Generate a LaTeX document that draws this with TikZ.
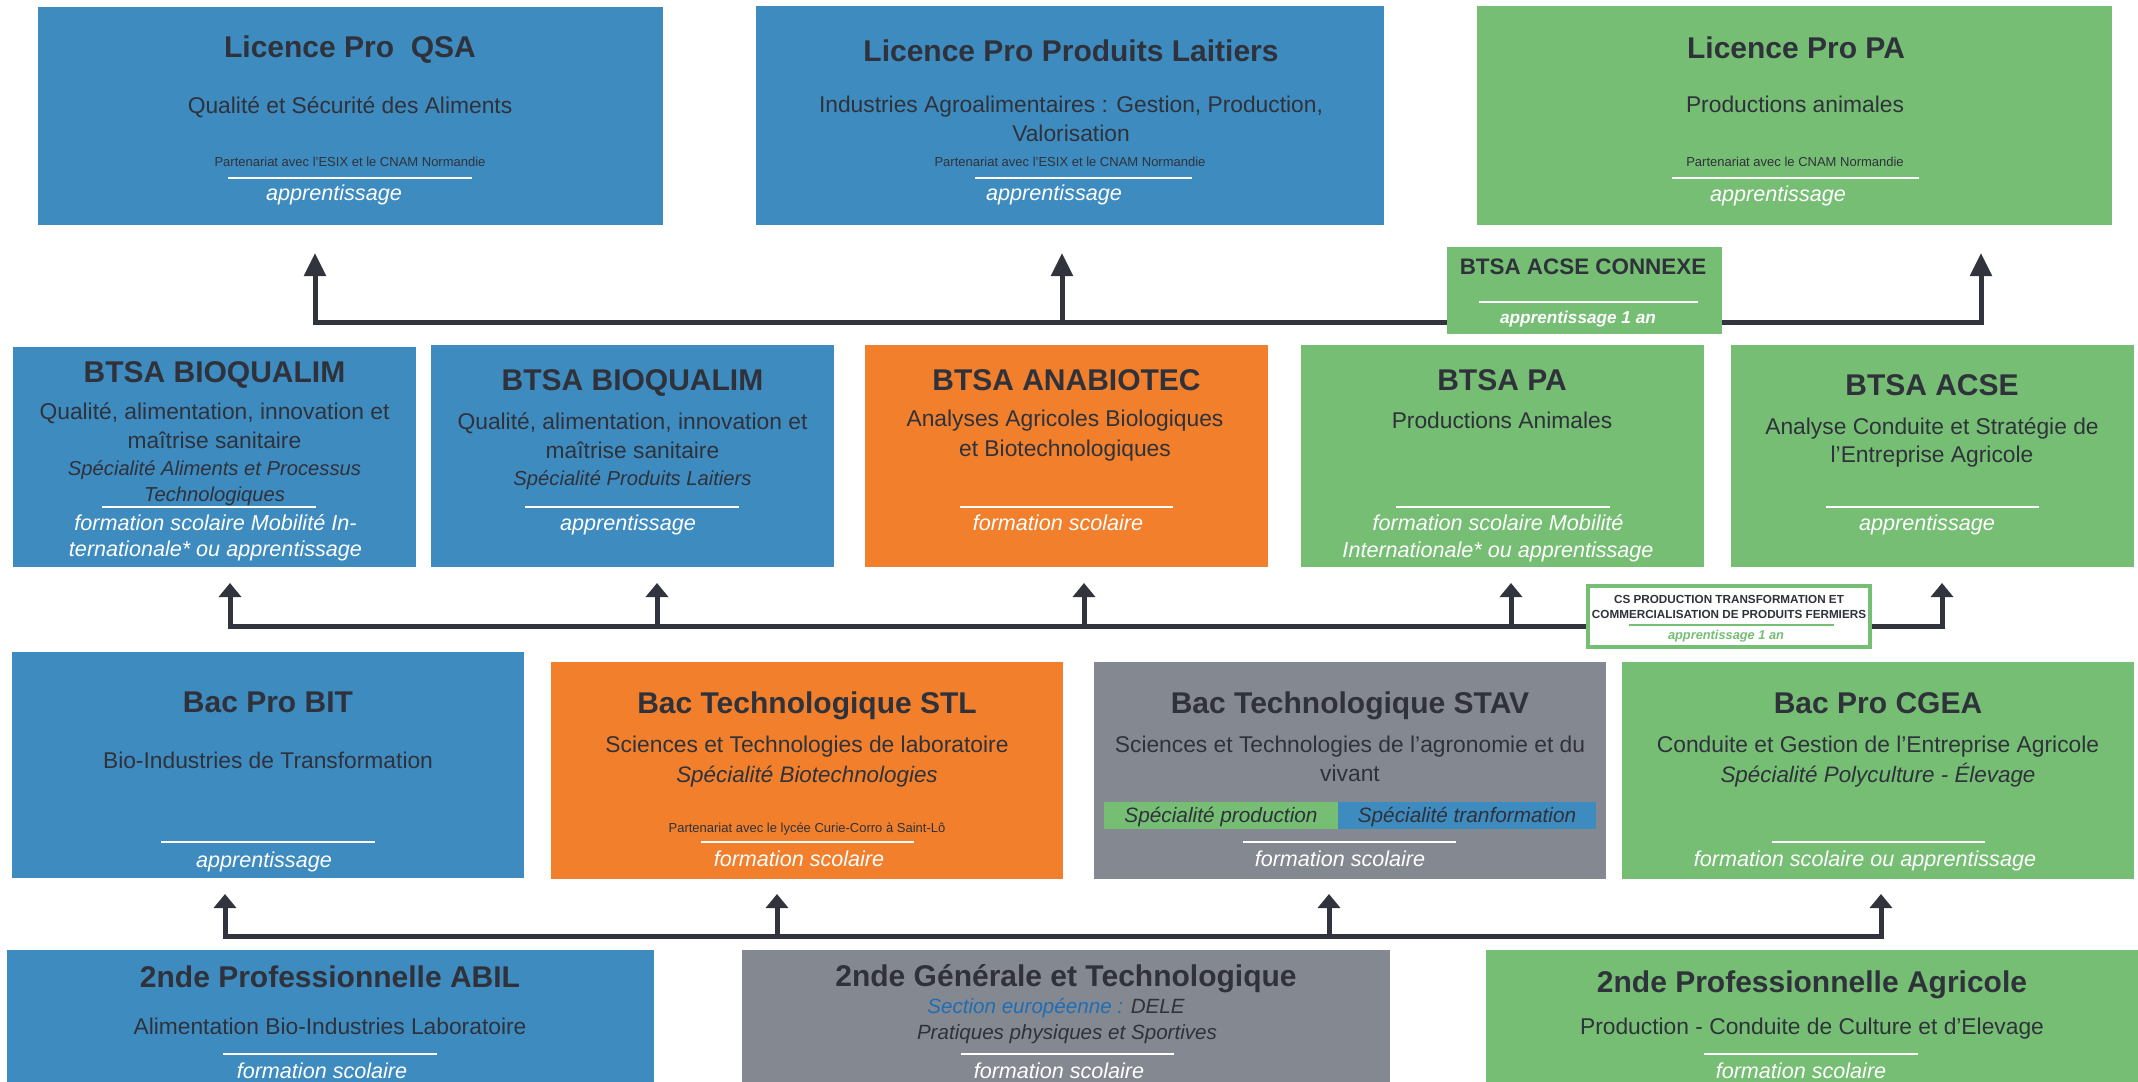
\documentclass[tikz,border=0pt]{standalone}
\usepackage{fontspec}
\setmainfont{Liberation Sans}
\usetikzlibrary{arrows.meta,fit}
\definecolor{cblue}{HTML}{3E8BC0}
\definecolor{cgreen}{HTML}{76BE74}
\definecolor{corange}{HTML}{F17F2B}
\definecolor{cgray}{HTML}{848891}
\definecolor{cdark}{HTML}{2F323A}
\definecolor{cwire}{HTML}{31343C}
\definecolor{ceuro}{HTML}{1F6EB4}
\begin{document}
\begin{tikzpicture}[x=0.5pt,y=-0.5pt,
  box/.style={draw=none,inner sep=0pt,outer sep=0pt},
  ttl/.style={font=\fontsize{15}{18}\selectfont\bfseries,text=cdark,anchor=mid,inner sep=0pt,yshift=-2.8pt},
  body/.style={font=\fontsize{11.4}{14}\selectfont,text=cdark,anchor=mid,inner sep=0pt,yshift=-0.8pt},
  spec/.style={font=\fontsize{11.2}{14}\selectfont\itshape,text=cdark,anchor=mid,inner sep=0pt,yshift=-1.2pt},
  specb/.style={font=\fontsize{10.1}{13}\selectfont\itshape,text=cdark,anchor=mid,inner sep=0pt,yshift=-1pt},
  mode/.style={font=\fontsize{10.8}{13}\selectfont\itshape,text=white,anchor=mid,inner sep=0pt,yshift=-1pt},
  small/.style={font=\fontsize{6.5}{8}\selectfont,text=cdark,anchor=mid,inner sep=0pt},
  sepline/.style={draw=white,line width=1.1pt},
  wire/.style={draw=cwire,line width=2.5pt},
  bigtip/.tip={Triangle[length=11.5pt,width=10.5pt]},
  smalltip/.tip={Triangle[length=7pt,width=11pt]}
]
\useasboundingbox (0,0) rectangle (2138,1082);

% ---------- connectors ----------
\coordinate (u1a) at (315,253); \coordinate (u1b) at (1062,253); \coordinate (u1c) at (1981,253);
\coordinate (b1a) at (315,322); \coordinate (b1b) at (1062,322); \coordinate (b1c) at (1981,322);
\draw[wire,bigtip-bigtip] (u1a) -- (b1a) -- (b1c) -- (u1c);
\draw[wire,-bigtip] (b1b) -- (u1b);

\coordinate (u2a) at (230,583); \coordinate (u2b) at (657,583); \coordinate (u2c) at (1084,583);
\coordinate (u2d) at (1511,583); \coordinate (u2e) at (1942,583);
\coordinate (b2a) at (230,626); \coordinate (b2b) at (657,626); \coordinate (b2c) at (1084,626);
\coordinate (b2d) at (1511,626); \coordinate (b2e) at (1942,626);
\draw[wire,smalltip-smalltip] (u2a) -- (b2a) -- (b2e) -- (u2e);
\draw[wire,-smalltip] (b2b) -- (u2b);
\draw[wire,-smalltip] (b2c) -- (u2c);
\draw[wire,-smalltip] (b2d) -- (u2d);

\coordinate (u3a) at (225,894); \coordinate (u3b) at (777,894); \coordinate (u3c) at (1329,894); \coordinate (u3d) at (1881,894);
\coordinate (b3a) at (225,936); \coordinate (b3b) at (777,936); \coordinate (b3c) at (1329,936); \coordinate (b3d) at (1881,936);
\draw[wire,smalltip-smalltip] (u3a) -- (b3a) -- (b3d) -- (u3d);
\draw[wire,-smalltip] (b3b) -- (u3b);
\draw[wire,-smalltip] (b3c) -- (u3c);

% ---------- row 1 ----------
\node[box,fill=cblue,fit={(38,7) (663,225)}] (qsa) {};
\node[ttl] (qsaT) at (350,47) {Licence Pro~ QSA};
\node[body] (qsa1) at (350,107) {Qualité et Sécurité des Aliments};
\node[small] (qsa2) at (350,161) {Partenariat avec l’ESIX et le CNAM Normandie};
\draw[sepline] (228,178) -- (472,178);
\node[mode] (qsa3) at (334,193) {apprentissage};

\node[box,fill=cblue,fit={(756,6) (1384,225)}] (pl) {};
\node[ttl] (plT) at (1071,51) {Licence Pro Produits Laitiers};
\node[body] (pl1) at (1071,106) {Industries Agroalimentaires : Gestion, Production,};
\node[body] (pl2) at (1071,135) {Valorisation};
\node[small] (pl3) at (1070,161) {Partenariat avec l’ESIX et le CNAM Normandie};
\draw[sepline] (975,178) -- (1192,178);
\node[mode] (pl4) at (1054,193) {apprentissage};

\node[box,fill=cgreen,fit={(1477,6) (2112,225)}] (lpa) {};
\node[ttl] (lpaT) at (1796,48) {Licence Pro PA};
\node[body] (lpa1) at (1795,106) {Productions animales};
\node[small] (lpa2) at (1795,161) {Partenariat avec le CNAM Normandie};
\draw[sepline] (1672,178) -- (1919,178);
\node[mode] (lpa3) at (1778,194) {apprentissage};

% BTSA ACSE CONNEXE
\node[box,fill=cgreen,fit={(1447,247) (1722,334)}] (cx) {};
\node[font=\fontsize{11.2}{13}\selectfont\bfseries,text=cdark,anchor=mid,inner sep=0pt,yshift=-1.2pt] (cxT) at (1583,267) {BTSA ACSE CONNEXE};
\draw[sepline] (1479,302) -- (1698,302);
\node[font=\fontsize{8.6}{10}\selectfont\bfseries\itshape,text=white,anchor=mid,inner sep=0pt,yshift=-0.6pt] (cx1) at (1578,317) {apprentissage 1 an};

% ---------- row 2 ----------
\node[box,fill=cblue,fit={(13,347) (416,567)}] (bq1) {};
\node[ttl] (bq1T) at (214.5,372) {BTSA BIOQUALIM};
\node[body] (bq1a) at (214.5,413) {Qualité, alimentation, innovation et};
\node[body] (bq1b) at (214.5,442) {maîtrise sanitaire};
\node[specb] (bq1c) at (214.5,468) {Spécialité Aliments et Processus};
\node[specb] (bq1d) at (214.5,494) {Technologiques};
\draw[sepline] (102,507) -- (316,507);
\node[mode] (bq1e) at (215.5,523) {formation scolaire Mobilité In-};
\node[mode] (bq1f) at (215.5,549) {ternationale* ou apprentissage};

\node[box,fill=cblue,fit={(431,345) (834,567)}] (bq2) {};
\node[ttl] (bq2T) at (632.5,380) {BTSA BIOQUALIM};
\node[body] (bq2a) at (632.5,423) {Qualité, alimentation, innovation et};
\node[body] (bq2b) at (632.5,452) {maîtrise sanitaire};
\node[specb] (bq2c) at (632.5,478) {Spécialité Produits Laitiers};
\draw[sepline] (525,507) -- (739,507);
\node[mode] (bq2d) at (628,523) {apprentissage};

\node[box,fill=corange,fit={(865,345) (1268,567)}] (ana) {};
\node[ttl] (anaT) at (1066.5,380) {BTSA ANABIOTEC};
\node[body] (ana1) at (1065,420) {Analyses Agricoles Biologiques};
\node[body] (ana2) at (1065,450) {et Biotechnologiques};
\draw[sepline] (960,507) -- (1173,507);
\node[mode] (ana3) at (1058,523) {formation scolaire};

\node[box,fill=cgreen,fit={(1301,345) (1704,567)}] (bpa) {};
\node[ttl] (bpaT) at (1502,380) {BTSA PA};
\node[body] (bpa1) at (1502,422) {Productions Animales};
\draw[sepline] (1396,507) -- (1610,507);
\node[mode] (bpa2) at (1498,523) {formation scolaire Mobilité};
\node[mode] (bpa3) at (1498,550) {Internationale* ou apprentissage};

\node[box,fill=cgreen,fit={(1731,345) (2134,567)}] (acse) {};
\node[ttl] (acseT) at (1932,385) {BTSA ACSE};
\node[body] (acse1) at (1932,428) {Analyse Conduite et Stratégie de};
\node[body] (acse2) at (1932,456) {l’Entreprise Agricole};
\draw[sepline] (1826,507) -- (2039,507);
\node[mode] (acse3) at (1927,523) {apprentissage};

% CS box
\node[box,fill=white,draw=cgreen,line width=2pt,fit={(1588,586) (1870,647)}] (cs) {};
\node[font=\fontsize{5.85}{7}\selectfont\bfseries,text=cdark,anchor=mid,inner sep=0pt] (cs1) at (1729,598) {CS PRODUCTION TRANSFORMATION ET};
\node[font=\fontsize{5.85}{7}\selectfont\bfseries,text=cdark,anchor=mid,inner sep=0pt] (cs2) at (1729,613) {COMMERCIALISATION DE PRODUITS FERMIERS};
\draw[draw=cgreen,line width=0.6pt] (1629,625) -- (1834,625);
\node[font=\fontsize{6.4}{8}\selectfont\bfseries\itshape,text=cgreen,anchor=mid,inner sep=0pt] (cs3) at (1726,634) {apprentissage 1 an};

% ---------- row 3 ----------
\node[box,fill=cblue,fit={(12,652) (524,878)}] (bit) {};
\node[ttl] (bitT) at (268,702) {Bac Pro BIT};
\node[body] (bit1) at (268,762) {Bio-Industries de Transformation};
\draw[sepline] (161,842) -- (375,842);
\node[mode] (bit2) at (264,860) {apprentissage};

\node[box,fill=corange,fit={(551,662) (1063,879)}] (stl) {};
\node[ttl] (stlT) at (807,703) {Bac Technologique STL};
\node[body] (stl1) at (807,746) {Sciences et Technologies de laboratoire};
\node[spec] (stl2) at (807,775) {Spécialité Biotechnologies};
\node[small] (stl3) at (807,827) {Partenariat avec le lycée Curie-Corro à Saint-Lô};
\draw[sepline] (701,842) -- (914,842);
\node[mode] (stl4) at (799,859) {formation scolaire};

\node[box,fill=cgray,fit={(1094,662) (1606,879)}] (stav) {};
\node[ttl] (stavT) at (1350,703) {Bac Technologique STAV};
\node[body] (stav1) at (1350,746) {Sciences et Technologies de l’agronomie et du};
\node[body] (stav2) at (1350,775) {vivant};
\node[box,fill=cgreen,fit={(1104,802) (1338,829)}] (stavp) {};
\node[box,fill=cblue,fit={(1338,802) (1596,829)}] (stavt) {};
\node[font=\fontsize{10.4}{12}\selectfont\itshape,text=cdark,anchor=mid,inner sep=0pt,yshift=-1pt] (stavp1) at (1221,815.5) {Spécialité production};
\node[font=\fontsize{10.4}{12}\selectfont\itshape,text=cdark,anchor=mid,inner sep=0pt,yshift=-1pt] (stavt1) at (1467,815.5) {Spécialité tranformation};
\draw[sepline] (1243,842) -- (1456,842);
\node[mode] (stav3) at (1340,859) {formation scolaire};

\node[box,fill=cgreen,fit={(1622,662) (2134,879)}] (cgea) {};
\node[ttl] (cgeaT) at (1878,703) {Bac Pro CGEA};
\node[body] (cgea1) at (1878,746) {Conduite et Gestion de l’Entreprise Agricole};
\node[spec] (cgea2) at (1878,775) {Spécialité Polyculture - Élevage};
\draw[sepline] (1772,842) -- (1985,842);
\node[mode] (cgea3) at (1865,859) {formation scolaire ou apprentissage};

% ---------- row 4 ----------
\node[box,fill=cblue,fit={(7,950) (654,1082)}] (abil) {};
\node[ttl] (abilT) at (330,977) {2nde Professionnelle ABIL};
\node[body] (abil1) at (330,1028) {Alimentation Bio-Industries Laboratoire};
\draw[sepline] (223,1054) -- (437,1054);
\node[mode] (abil2) at (322,1071) {formation scolaire};

\node[box,fill=cgray,fit={(742,950) (1390,1082)}] (gt) {};
\node[ttl] (gtT) at (1066,976) {2nde Générale et Technologique};
\node[font=\fontsize{10.3}{12}\selectfont\itshape,text=cdark,anchor=mid,inner sep=0pt,yshift=-1pt] (gt1) at (1056,1006) {\textcolor{ceuro}{Section européenne :} DELE};
\node[font=\fontsize{10.3}{12}\selectfont\itshape,text=cdark,anchor=mid,inner sep=0pt,yshift=-1pt] (gt2) at (1067,1032) {Pratiques physiques et Sportives};
\draw[sepline] (961,1054) -- (1174,1054);
\node[mode] (gt3) at (1059,1071) {formation scolaire};

\node[box,fill=cgreen,fit={(1486,950) (2138,1082)}] (agri) {};
\node[ttl] (agriT) at (1812,982) {2nde Professionnelle Agricole};
\node[body] (agri1) at (1812,1028) {Production - Conduite de Culture et d’Elevage};
\draw[sepline] (1704,1054) -- (1918,1054);
\node[mode] (agri2) at (1801,1071) {formation scolaire};
\end{tikzpicture}
\end{document}
